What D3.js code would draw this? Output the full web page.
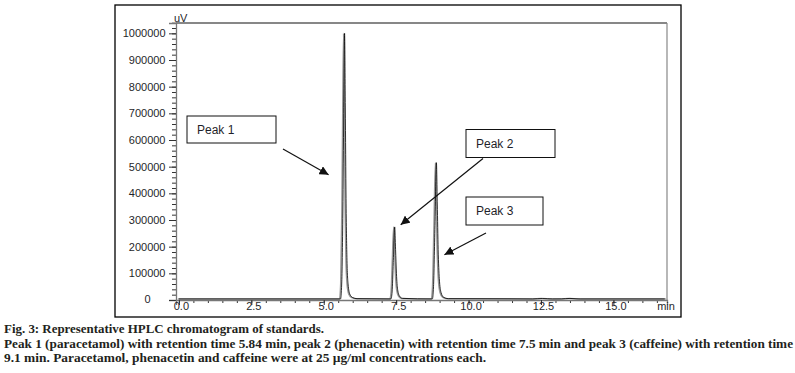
<!DOCTYPE html>
<html><head><meta charset="utf-8">
<script src="https://cdn.jsdelivr.net/npm/d3@7"></script>
<style>
html,body{margin:0;padding:0;background:#fff;}
svg{display:block;}
</style></head>
<body>
<svg id="c" width="795" height="373"></svg>
<script>
// ---- data ----
const timeMin = [0, 5.58, 5.62, 5.66, 5.69, 5.72, 5.745, 5.77, 5.80, 5.84, 5.90, 6.00, 6.15,
  7.32, 7.36, 7.40, 7.45, 7.48, 7.51, 7.55, 7.62, 7.72,
  8.75, 8.79, 8.84, 8.89, 8.92, 8.95, 8.99, 9.05, 9.14, 9.30,
  12.2, 12.55, 12.9, 13.2, 13.5, 13.85, 16.8];
const signalUV = [4000, 4000, 60000, 330000, 700000, 1000000, 720000, 380000, 160000, 60000, 22000, 9000, 5000,
  4000, 30000, 140000, 274000, 190000, 100000, 40000, 14000, 6000,
  4000, 50000, 280000, 515000, 360000, 190000, 80000, 28000, 10000, 5000,
  4000, 5500, 4000, 4200, 5800, 4000, 4000];
const xMajorTicks = [0, 2.5, 5, 7.5, 10, 12.5, 15];
const xTickLabels = ["0.0", "2.5", "5.0", "7.5", "10.0", "12.5", "15.0"];
const yMajorTicks = [0, 100000, 200000, 300000, 400000, 500000, 600000, 700000, 800000, 900000, 1000000];
const peakLabels = ["Peak 1", "Peak 2", "Peak 3"];
const peakTimes = [5.72, 7.45, 8.89];
const captionLines = [
  "Fig. 3: Representative HPLC chromatogram of standards.",
  "Peak 1 (paracetamol) with retention time 5.84 min, peak 2 (phenacetin) with retention time 7.5 min and peak 3 (caffeine) with retention time",
  "9.1 min. Paracetamol, phenacetin and caffeine were at 25 \u00b5g/ml concentrations each."
];

// ---- layout ----
const svg = d3.select("#c");
const L = 176, R = 667, T = 23, B = 300;
const x = d3.scaleLinear().domain([-0.1, 16.85]).range([L, R]);
const y = d3.scaleLinear().domain([0, 1038750]).range([B, T]);
const font = "'Liberation Sans', Arial, sans-serif";
const txtCol = "#1f1f2a";

// outer frame
svg.append("rect").attr("x", 115).attr("y", 5).attr("width", 566).attr("height", 312)
  .attr("fill", "none").attr("stroke", "#000").attr("stroke-width", 1.3);

// plot frame (top & right)
svg.append("line").attr("x1", L).attr("x2", R).attr("y1", T).attr("y2", T).attr("stroke", "#111").attr("stroke-width", 1.2);
svg.append("line").attr("x1", R).attr("x2", R).attr("y1", T).attr("y2", B).attr("stroke", "#888").attr("stroke-width", 1.2);

// y axis minor
const yMinor = d3.range(0, 1040001, 20000);
svg.append("g").attr("transform", `translate(${L},0)`)
  .call(d3.axisLeft(y).tickValues(yMinor).tickSize(4).tickFormat(""))
  .call(g => g.select(".domain").remove())
  .call(g => g.selectAll("line").attr("stroke", "#333"));
// y axis major
const gy = svg.append("g").attr("transform", `translate(${L},0)`)
  .call(d3.axisLeft(y).tickValues(yMajorTicks).tickSize(7).tickPadding(3.5).tickFormat(d3.format("d")));
gy.select(".domain").attr("stroke", "#777").attr("stroke-width", 1.3);
gy.selectAll("line").attr("stroke", "#333");
gy.selectAll("text").attr("font-family", font).attr("font-size", 11).attr("fill", txtCol);
gy.selectAll(".tick").filter(d => d === 0).select("text").attr("dx", -15).attr("dy", "0.2em");

// x axis minor
const xMinor = d3.range(0, 16.81, 0.5);
svg.append("g").attr("transform", `translate(0,${B})`)
  .call(d3.axisBottom(x).tickValues(xMinor).tickSize(3).tickFormat(""))
  .call(g => g.select(".domain").remove())
  .call(g => g.selectAll("line").attr("stroke", "#333"));
// x axis major
const gx = svg.append("g").attr("transform", `translate(0,${B})`)
  .call(d3.axisBottom(x).tickValues(xMajorTicks).tickSize(5).tickFormat((d, i) => xTickLabels[i]));
gx.select(".domain").attr("stroke", "#777").attr("stroke-width", 1.3);
gx.selectAll("line").attr("stroke", "#333");
gx.selectAll("text").attr("font-family", font).attr("font-size", 11).attr("fill", txtCol)
  .attr("y", 2).attr("dx", 2);

// unit labels
svg.append("text").attr("x", 174).attr("y", 21.5).text("uV")
  .attr("font-family", font).attr("font-size", 11).attr("fill", txtCol);
svg.append("text").attr("x", R - 1).attr("y", 310).attr("text-anchor", "middle").text("min")
  .attr("font-family", font).attr("font-size", 11).attr("fill", txtCol);

// chromatogram trace
const pts = timeMin.map((t, i) => [t, signalUV[i]]);
const line = d3.line().x(d => x(d[0])).y(d => y(d[1])).curve(d3.curveMonotoneX);
svg.append("path").datum(pts).attr("d", line).attr("fill", "none")
  .attr("stroke", "#999").attr("stroke-width", 1.5).attr("transform", "translate(-1,0)");
svg.append("path").datum(pts).attr("d", line).attr("fill", "none")
  .attr("stroke", "#000").attr("stroke-width", 0.8);

// annotations
const defs = svg.append("defs");
defs.append("marker").attr("id", "ah").attr("viewBox", "0 0 10 10").attr("refX", 10).attr("refY", 5)
  .attr("markerWidth", 9).attr("markerHeight", 9).attr("markerUnits", "userSpaceOnUse").attr("orient", "auto")
  .append("path").attr("d", "M0,0 L10,5 L0,10 z").attr("fill", "#111");

const boxes = [
  {x: 187, y: 116, w: 89, h: 27},
  {x: 466, y: 129.5, w: 89, h: 28},
  {x: 466, y: 197, w: 77, h: 28}
];
const arrows = [
  {x1: 283, y1: 149, t: 5.72, v: 470000, dx: -16},
  {x1: 483, y1: 158.5, t: 7.45, v: 282000, dx: 6},
  {x1: 486, y1: 233, t: 8.89, v: 170000, dx: 8}
];
peakLabels.forEach((lab, i) => {
  const b = boxes[i];
  svg.append("rect").attr("x", b.x).attr("y", b.y).attr("width", b.w).attr("height", b.h)
    .attr("fill", "#fff").attr("stroke", "#111").attr("stroke-width", 1);
  svg.append("text").attr("x", b.x + 10).attr("y", b.y + b.h / 2 + 4).text(lab)
    .attr("font-family", font).attr("font-size", 12).attr("fill", txtCol);
  const a = arrows[i];
  svg.append("line").attr("x1", a.x1).attr("y1", a.y1)
    .attr("x2", x(peakTimes[i]) + a.dx).attr("y2", y(a.v))
    .attr("stroke", "#111").attr("stroke-width", 1.2).attr("marker-end", "url(#ah)");
});

// caption
const capX = 4, capY = [333, 348, 362], capW = [320, 789, 482];
captionLines.forEach((s, i) => {
  svg.append("text").attr("x", capX).attr("y", capY[i]).text(s)
    .attr("font-family", "'Liberation Serif', 'DejaVu Serif', serif").attr("font-weight", "bold")
    .attr("font-size", 12.3).attr("fill", "#231f20")
    .attr("textLength", capW[i]).attr("lengthAdjust", "spacingAndGlyphs");
});
</script>
</body></html>
